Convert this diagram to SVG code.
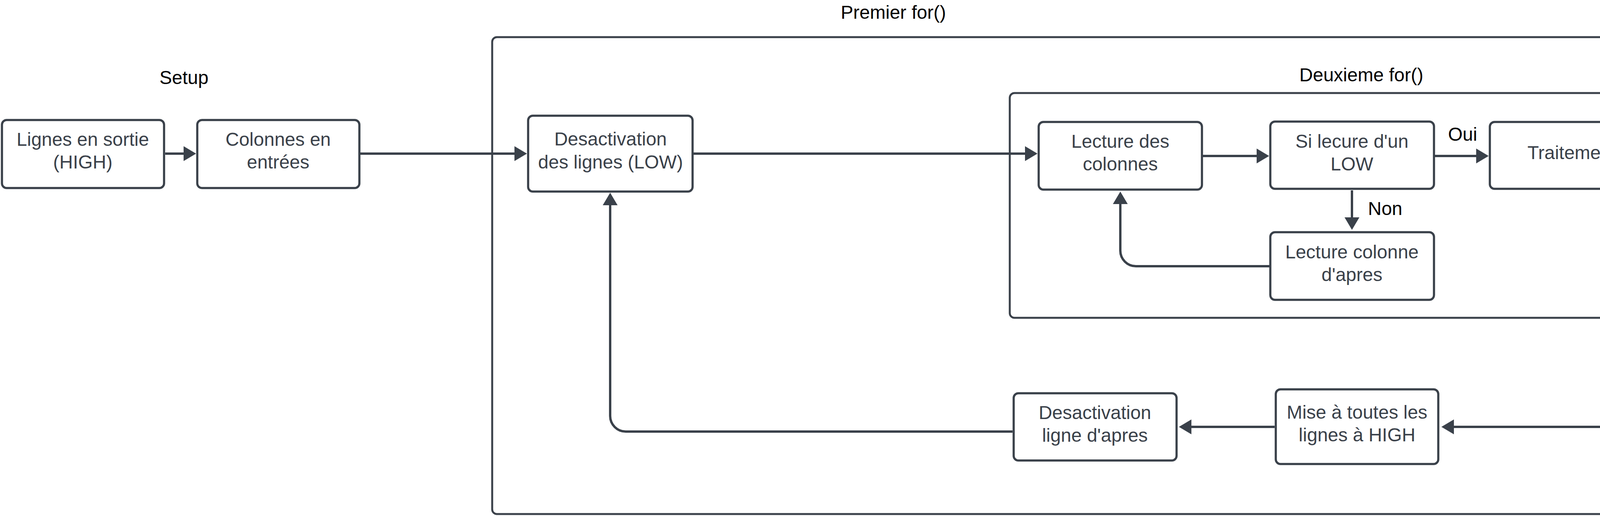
<svg xmlns="http://www.w3.org/2000/svg" width="4946" height="1320" viewBox="0 0 4946 1320">
<style>
.box{fill:#ffffff;stroke:#3a414a;stroke-width:5.5}
.cont{fill:none;stroke:#3a414a;stroke-width:5}
.t{font-family:"Liberation Sans",Arial,sans-serif;font-size:48px;fill:#3a414a;text-anchor:middle}
.lbl{font-family:"Liberation Sans",Arial,sans-serif;font-size:48px;fill:#000000}
.mid{text-anchor:middle}
.c{fill:none;stroke:#3a414a;stroke-width:6}
</style>
<defs>
<marker id="arr" markerUnits="userSpaceOnUse" markerWidth="32" markerHeight="38" refX="16" refY="19" orient="auto" viewBox="0 0 32 38">
<path d="M0,0 L32,19 L0,38 Z" fill="#3a414a"/>
</marker>
</defs>
<rect width="4946" height="1320" fill="#ffffff"/>

<g id="premier-for">
<rect class="cont" x="1260" y="95" width="3682" height="1220" rx="12"/>
<text class="lbl mid" x="2287" y="48">Premier for()</text>
</g>
<g id="deuxieme-for">
<rect class="cont" x="2585" y="238" width="2210" height="575" rx="12"/>
<text class="lbl mid" x="3485" y="208">Deuxieme for()</text>
</g>
<g id="setup-label">
<text class="lbl mid" x="471" y="215">Setup</text>
</g>

<g id="connectors">
<path class="c" d="M423,393 H486" marker-end="url(#arr)"/>
<path class="c" d="M922,393 H1333" marker-end="url(#arr)"/>
<path class="c" d="M1773,393 H2640" marker-end="url(#arr)"/>
<path class="c" d="M3079,399 H3233" marker-end="url(#arr)"/>
<path class="c" d="M3672,399 H3795" marker-end="url(#arr)"/>
<path class="c" d="M3461,487 V572" marker-end="url(#arr)"/>
<path class="c" d="M3250,681 H2908 A40,40 0 0 1 2868,641 V506" marker-end="url(#arr)"/>
<path class="c" d="M4558,496 V1049 A43,43 0 0 1 4515,1092 H3706" marker-end="url(#arr)"/>
<path class="c" d="M3263,1092 H3034" marker-end="url(#arr)"/>
<path class="c" d="M2592,1104 H1602 A40,40 0 0 1 1562,1064 V509" marker-end="url(#arr)"/>
<text class="lbl" x="3707" y="360">Oui</text>
<text class="lbl" x="3502" y="550">Non</text>
</g>

<g id="lignes-sortie">
<rect class="box" x="5" y="307" width="415" height="174" rx="12"/>
<text class="t" x="212" y="373">Lignes en sortie</text>
<text class="t" x="212" y="431">(HIGH)</text>
</g>
<g id="colonnes-entrees">
<rect class="box" x="505" y="307" width="415" height="174" rx="12"/>
<text class="t" x="712" y="373">Colonnes en</text>
<text class="t" x="712" y="431">entrées</text>
</g>
<g id="desactivation-lignes">
<rect class="box" x="1352" y="296" width="421" height="194" rx="12"/>
<text class="t" x="1563" y="372">Desactivation</text>
<text class="t" x="1563" y="431">des lignes (LOW)</text>
</g>
<g id="lecture-colonnes">
<rect class="box" x="2659" y="312" width="418" height="173" rx="12"/>
<text class="t" x="2868" y="378">Lecture des</text>
<text class="t" x="2868" y="436">colonnes</text>
</g>
<g id="si-lecure">
<rect class="box" x="3252" y="311" width="419" height="172" rx="12"/>
<text class="t" x="3461" y="378">Si lecure d'un</text>
<text class="t" x="3461" y="436">LOW</text>
</g>
<g id="traitement">
<rect class="box" x="3814" y="312" width="419" height="171" rx="12"/>
<text class="t" x="4024" y="407">Traitement</text>
</g>
<g id="si-toutes">
<rect class="box" x="4350" y="302" width="417" height="190" rx="12"/>
<text class="t" x="4558" y="354">Si toutes les</text>
<text class="t" x="4558" y="412">colonnes sont</text>
<text class="t" x="4558" y="470">lues</text>
</g>
<g id="lecture-colonne-apres">
<rect class="box" x="3252" y="594" width="419" height="173" rx="12"/>
<text class="t" x="3461" y="661">Lecture colonne</text>
<text class="t" x="3461" y="719">d'apres</text>
</g>
<g id="mise-high">
<rect class="box" x="3266" y="996" width="416" height="191" rx="12"/>
<text class="t" x="3474" y="1071">Mise à toutes les</text>
<text class="t" x="3474" y="1129">lignes à HIGH</text>
</g>
<g id="desactivation-ligne-apres">
<rect class="box" x="2595" y="1006" width="417" height="172" rx="12"/>
<text class="t" x="2803" y="1072">Desactivation</text>
<text class="t" x="2803" y="1130">ligne d'apres</text>
</g>
</svg>
